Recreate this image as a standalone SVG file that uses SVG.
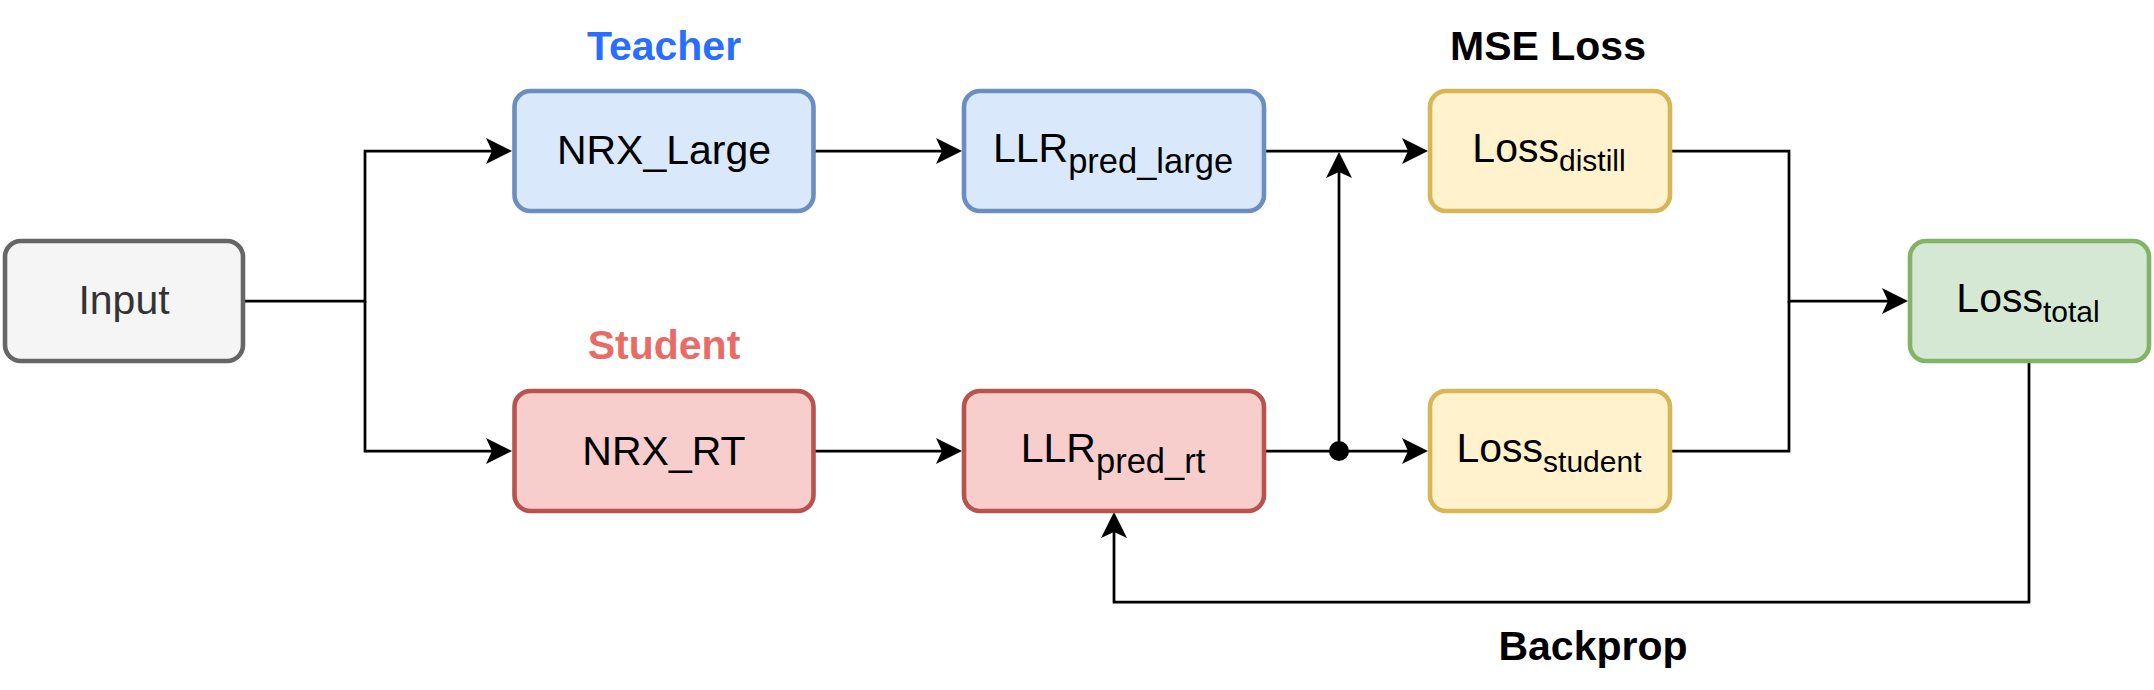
<svg xmlns="http://www.w3.org/2000/svg" width="2154" height="690" viewBox="0 0 2154 690">
<style>
.box{stroke-width:4.6}
.gray{fill:#f5f5f5;stroke:#666666}
.blue{fill:#dae8fc;stroke:#6c8ebf}
.red{fill:#f8cecc;stroke:#b85450}
.yellow{fill:#fff2cc;stroke:#d6b656}
.green{fill:#d5e8d4;stroke:#82b366}
.t{font-family:"Liberation Sans",Arial,sans-serif;font-size:41px;fill:#000;text-anchor:middle}
.lbl{font-family:"Liberation Sans",Arial,sans-serif;font-size:41px;font-weight:bold;text-anchor:middle}
.conn{fill:none;stroke:#000;stroke-width:2.75;stroke-linejoin:miter}
</style>
<defs>
<marker id="arr" markerUnits="userSpaceOnUse" viewBox="-20 -15 32 30" refX="0" refY="0" markerWidth="32" markerHeight="30" orient="auto">
<path d="M10,0 L-16,-13 L-10,0 L-16,13 Z" fill="#000"/>
</marker>
</defs>
<rect width="2154" height="690" fill="#ffffff"/>

<g id="connectors">
<path class="conn" d="M243,301 H365 V151 H502" marker-end="url(#arr)"/>
<path class="conn" d="M365,301 V451 H502" marker-end="url(#arr)"/>
<path class="conn" d="M813,151 H952" marker-end="url(#arr)"/>
<path class="conn" d="M813,451 H952" marker-end="url(#arr)"/>
<path class="conn" d="M1264,151 H1418" marker-end="url(#arr)"/>
<path class="conn" d="M1264,451 H1418" marker-end="url(#arr)"/>
<path class="conn" d="M1339,451 V162" marker-end="url(#arr)"/>
<circle cx="1339" cy="451" r="10" fill="#000"/>
<path class="conn" d="M1670,151 H1789 V301 H1898" marker-end="url(#arr)"/>
<path class="conn" d="M1670,451 H1789 V301"/>
<path class="conn" d="M2029,361 V602 H1114 V522" marker-end="url(#arr)"/>
</g>

<g id="input">
<rect class="box gray" x="5" y="241" width="238" height="120" rx="16"/>
<text class="t" x="124" y="314" style="fill:#333333">Input</text>
</g>

<g id="nrx_large">
<rect class="box blue" x="514.5" y="91" width="299" height="120" rx="16"/>
<text class="t" x="664" y="164">NRX_Large</text>
</g>

<g id="llr_large">
<rect class="box blue" x="964" y="91" width="300" height="120" rx="16"/>
<text class="t" x="1113" y="162">LLR<tspan font-size="34.5" dy="11">pred_large</tspan></text>
</g>

<g id="loss_distill">
<rect class="box yellow" x="1430" y="91" width="240" height="120" rx="16"/>
<text class="t" x="1549" y="162">Loss<tspan font-size="30" dy="9">distill</tspan></text>
</g>

<g id="nrx_rt">
<rect class="box red" x="514.5" y="391" width="299" height="120" rx="16"/>
<text class="t" x="664" y="465">NRX_RT</text>
</g>

<g id="llr_rt">
<rect class="box red" x="964" y="391" width="300" height="120" rx="16"/>
<text class="t" x="1113" y="462">LLR<tspan font-size="34.5" dy="11">pred_rt</tspan></text>
</g>

<g id="loss_student">
<rect class="box yellow" x="1430" y="391" width="240" height="120" rx="16"/>
<text class="t" x="1549" y="462">Loss<tspan font-size="30" dy="10">student</tspan></text>
</g>

<g id="loss_total">
<rect class="box green" x="1910" y="241" width="239" height="120" rx="16"/>
<text class="t" x="2028" y="312">Loss<tspan font-size="30" dy="10">total</tspan></text>
</g>

<g id="labels">
<text class="lbl" x="664" y="60" fill="#2a6eff">Teacher</text>
<text class="lbl" x="664" y="359" fill="#ea6b66">Student</text>
<text class="lbl" x="1548" y="60" fill="#000000">MSE Loss</text>
<text class="lbl" x="1593" y="660" fill="#000000">Backprop</text>
</g>
</svg>
